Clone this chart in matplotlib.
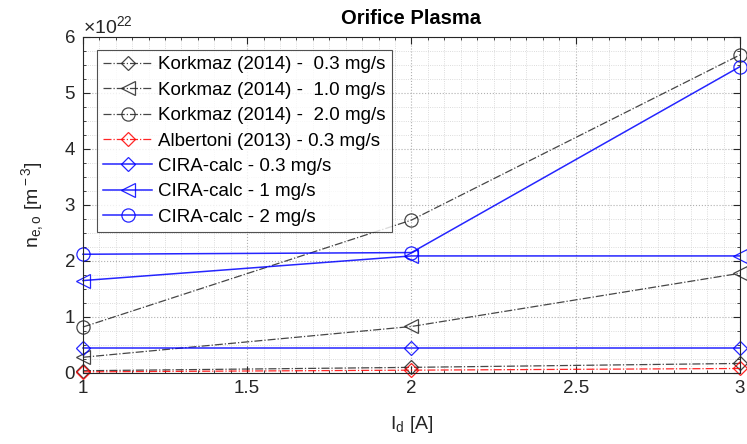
import numpy as np
import matplotlib
matplotlib.use("Agg")
import matplotlib.pyplot as plt
from matplotlib.ticker import MultipleLocator, ScalarFormatter

plt.rcParams["font.family"] = ["Liberation Sans", "DejaVu Sans"]
plt.rcParams["mathtext.fontset"] = "custom"
plt.rcParams["mathtext.rm"] = "Liberation Sans"
plt.rcParams["mathtext.it"] = "Liberation Sans"

# discharge current [A]
current = [1, 2, 3]

# orifice plasma density [m^-3]
korkmaz_03 = [0.04e22, 0.10e22, 0.17e22]
korkmaz_10 = [0.28e22, 0.83e22, 1.78e22]
korkmaz_20 = [0.82e22, 2.73e22, 5.68e22]
albertoni_03 = [0.02e22, 0.05e22, 0.08e22]
cira_03 = [0.45e22, 0.45e22, 0.45e22]
cira_1 = [1.65e22, 2.09e22, 2.09e22]
cira_2 = [2.12e22, 2.15e22, 5.47e22]

series = [
    (korkmaz_03, "Korkmaz (2014) -  0.3 mg/s", "#262626", "-.", "D", 7.5, 0.9),
    (korkmaz_10, "Korkmaz (2014) -  1.0 mg/s", "#262626", "-.", "<", 10, 0.9),
    (korkmaz_20, "Korkmaz (2014) -  2.0 mg/s", "#262626", "-.", "o", 9.5, 0.9),
    (albertoni_03, "Albertoni (2013) - 0.3 mg/s", "#ff0000", "-.", "D", 7.5, 0.9),
    (cira_03, "CIRA-calc - 0.3 mg/s", "#0000ff", "-", "D", 7.5, 1.1),
    (cira_1, "CIRA-calc - 1 mg/s", "#0000ff", "-", "<", 10, 1.1),
    (cira_2, "CIRA-calc - 2 mg/s", "#0000ff", "-", "o", 9.5, 1.1),
]

fig = plt.figure(figsize=(7.47, 4.44), dpi=100)
ax = fig.add_axes([0.111, 0.16, 0.8796, 0.7567])

for vals, label, color, ls, mk, ms, lw in series:
    ax.plot(current, vals, color=color, linestyle=ls, linewidth=lw,
            marker=mk, markersize=ms, markerfacecolor="none",
            markeredgecolor=color, markeredgewidth=0.9, label=label,
            clip_on=False, alpha=0.85)

ax.set_xlim(1, 3)
ax.set_ylim(0, 6e22)
ax.xaxis.set_major_locator(MultipleLocator(0.5))
ax.xaxis.set_minor_locator(MultipleLocator(0.05))
ax.yaxis.set_major_locator(MultipleLocator(1e22))
ax.yaxis.set_minor_locator(MultipleLocator(0.25e22))

fmt = ScalarFormatter(useMathText=True)
fmt.set_powerlimits((0, 0))
ax.yaxis.set_major_formatter(fmt)
offset = ax.yaxis.get_offset_text()
offset.set_fontsize(14)
offset.set_color("#505050")

ax.xaxis.set_major_formatter(plt.FuncFormatter(lambda v, p: f"{v:g}"))

ax.grid(True, which="major", linestyle=":", color="#b0b0b0", linewidth=0.8)
ax.grid(True, which="minor", linestyle=":", color="#d0d0d0", linewidth=0.6)
ax.set_axisbelow(True)

ax.tick_params(which="both", direction="in", top=True, right=True,
               labelsize=13.5, colors="#262626")
ax.tick_params(which="major", length=5, pad=5)
ax.tick_params(which="minor", length=2.5)
for sp in ax.spines.values():
    sp.set_color("#262626")
    sp.set_linewidth(0.8)

ax.set_title("Orifice Plasma", fontsize=14.5, fontweight="bold", pad=9)
ax.set_xlabel(r"I$_{\rm d}$ [A]", fontsize=14, color="#262626", labelpad=12)
ax.set_ylabel(r"n$_{\rm e,o}$ [m$^{\rm -3}$]", fontsize=14, color="#262626",
              labelpad=13)

leg = ax.legend(loc="upper left", bbox_to_anchor=(0.021, 0.962), fontsize=13.5,
                frameon=True, fancybox=False, edgecolor="#262626",
                handlelength=2.6, labelspacing=0.44, borderpad=0.35,
                handletextpad=0.3, borderaxespad=0.0)
leg.get_frame().set_linewidth(0.8)

fig.savefig("out.png", dpi=100)
